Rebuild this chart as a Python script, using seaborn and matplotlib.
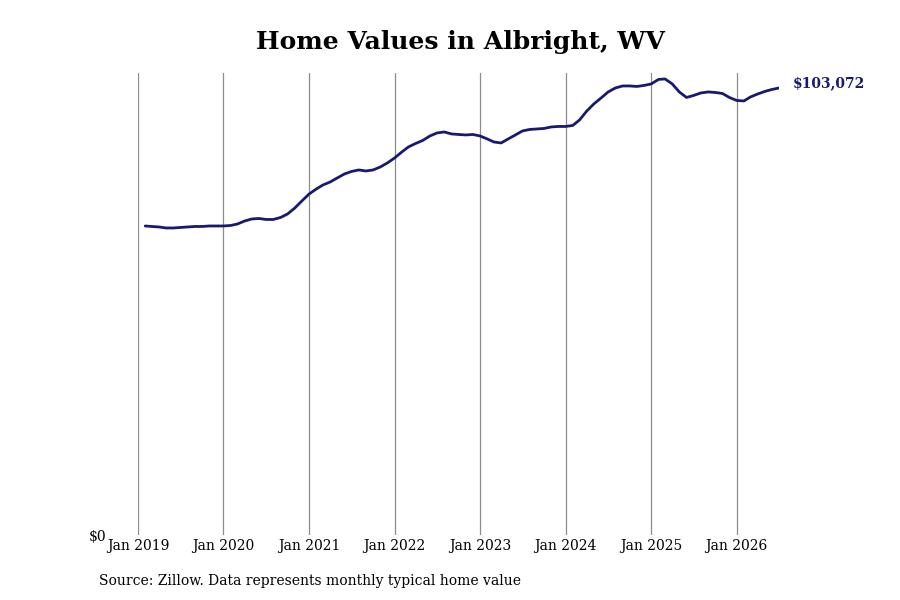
import pandas as pd
import seaborn as sns
import matplotlib as mpl
from matplotlib import pyplot as plt

# monthly typical home value, Feb 2019 .. Jul 2026
start_month = "2019-02-01"
values = [
    71255, 71140, 71025, 70794, 70794, 70910, 71025, 71140, 71140, 71255, 71255,  # 2019
    71255, 71371, 71717, 72408, 72870, 72985, 72754, 72754, 73216, 74023, 75406, 77020,  # 2020
    78635, 79788, 80710, 81402, 82324, 83247, 83823, 84169, 83938, 84169, 84861, 85783,  # 2021
    86936, 88320, 89473, 90280, 90972, 92009, 92701, 92932, 92471, 92355, 92240, 92355,  # 2022
    92009, 91318, 90626, 90395, 91318, 92240, 93162, 93508, 93624, 93739, 94085, 94200,  # 2023
    94200, 94431, 95699, 97774, 99389, 100772, 102156, 103078, 103539, 103539, 103424, 103655,  # 2024
    104001, 105039, 105154, 104001, 102156, 100887, 101349, 101925, 102156, 102041, 101810, 100887,  # 2025
    100196, 100080, 101003, 101695, 102271, 102733, 103072,  # 2026
]
tick_years = [2019, 2020, 2021, 2022, 2023, 2024, 2025, 2026]
title = "Home Values in Albright, WV"
source = "Source: Zillow. Data represents monthly typical home value"

navy = "#191970"

df = pd.DataFrame({
    "date": pd.date_range(start_month, periods=len(values), freq="MS"),
    "value": values,
})

sns.set_theme(style="white")
plt.rcParams["font.family"] = ["DejaVu Serif"]

fig = plt.figure(figsize=(9, 6), dpi=100)
ax = fig.add_axes([0.1533, 0.1083, 0.7123, 0.77])

sns.lineplot(data=df, x="date", y="value", color=navy, linewidth=2.0, ax=ax)

ax.set_xlim(pd.Timestamp("2019-01-01"), df["date"].iloc[-1])
ax.set_ylim(0, max(values) * 1.013)

ticks = [pd.Timestamp(f"{y}-01-01") for y in tick_years]
ax.set_xticks(ticks)
ax.set_xticklabels([f"Jan {y}" for y in tick_years], fontsize=10, color="black")
ax.set_yticks([0])
ax.set_yticklabels(["$0"], fontsize=10, color="black")
ax.tick_params(axis="x", length=0, pad=3)
ax.tick_params(axis="y", length=0, pad=23)

ax.grid(axis="x", color="#8c8c8c", linewidth=0.9)
ax.grid(axis="y", visible=False)
for s in ax.spines.values():
    s.set_visible(False)
ax.set_xlabel("")
ax.set_ylabel("")

last = df.iloc[-1]
ax.annotate(f"${last['value']:,.0f}", xy=(last["date"], last["value"]),
            xytext=(10, 3.5), textcoords="offset points", va="center",
            fontsize=10, fontweight="bold", color=navy)

fig.text(0.512, 0.93, title, ha="center", va="center", fontsize=18,
         fontweight="bold", color="black")
fig.text(0.11, 0.031, source, ha="left", va="center", fontsize=10, color="black")

fig.savefig("out.png", dpi=100)
